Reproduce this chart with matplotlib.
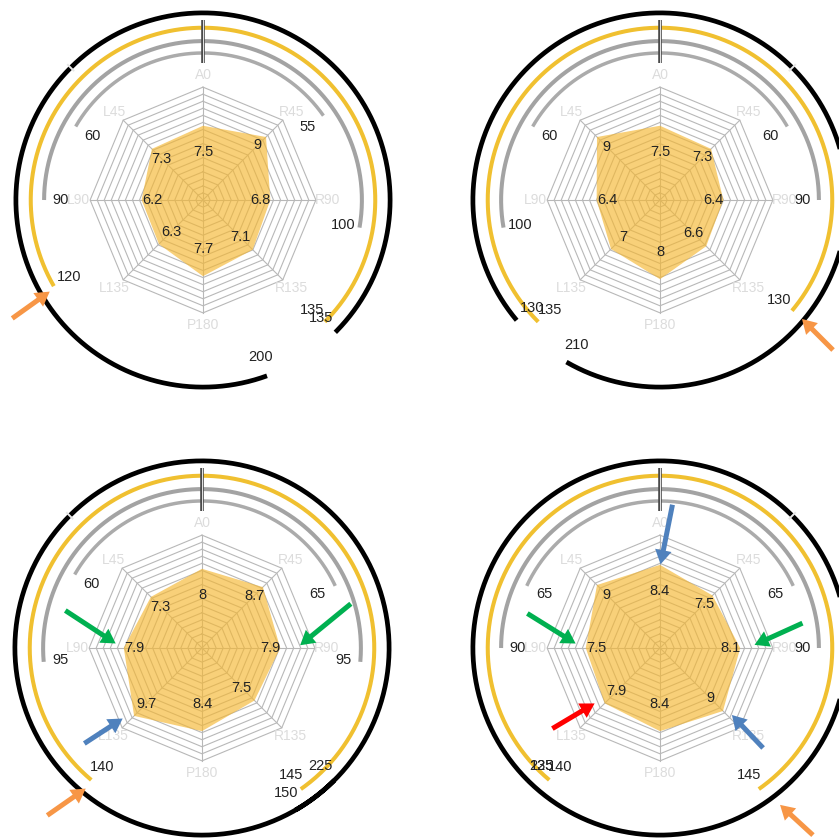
import numpy as np
import matplotlib
matplotlib.use("Agg")
import matplotlib.pyplot as plt
from matplotlib.patches import FancyArrowPatch

plt.rcParams['font.family'] = ['Liberation Sans', 'DejaVu Sans']

# spokes of the radar, clockwise from the top
directions = ['A0', 'R45', 'R90', 'R135', 'P180', 'L135', 'L90', 'L45']
bearings = [0, 45, 90, 135, 180, 225, 270, 315]

# scores per spoke for the four charts (top-left, top-right, bottom-left, bottom-right)
scores_tl = [7.5, 9, 6.8, 7.1, 7.7, 6.3, 6.2, 7.3]
scores_tr = [7.5, 7.3, 6.4, 6.6, 8, 7, 6.4, 9]
scores_bl = [8, 8.7, 7.9, 7.5, 8.4, 9.7, 7.9, 7.3]
scores_br = [8.4, 7.5, 8.1, 9, 8.4, 7.9, 7.5, 9]
all_scores = [scores_tl, scores_tr, scores_bl, scores_br]

# arc reach in degrees from the top: (left / counter-clockwise, right / clockwise)
inner_gray = [(60, 55), (60, 60), (60, 65), (65, 65)]
outer_gray = [(90, 100), (100, 90), (95, 95), (90, 90)]
yellow = [(120, 135), (135, 130), (140, 145), (140, 145)]
black = [(200, 135), (130, 210), (225, 150), (135, 225)]

# ---- layout / style ----
W, H = 839, 838
K = 9.9              # pixels per radial unit
RLIM = 20.5
GRID_MAX = 11.4
N_RINGS = 16
centers = [(203, 200), (660, 200), (202, 648), (660, 648)]
tick_side = [-45, 45, -45, 45]

# ring radius, line width, colour, label radius
rings = [
    (inner_gray, 14.85, 2.5, '#ababab', 12.9),
    (outer_gray, 16.05, 2.9, '#a3a3a3', 14.35),
    (yellow, 17.4, 2.9, '#f0c030', 15.65),
    (black, 18.9, 3.4, '#000000', 16.9),
]
# how far the score text sits inside its vertex (pixels)
pull = [26, 12, 10, 18, 27, 17, 11, 14]

# annotation arrows: colour, tail (px), tip (px)
arrows = [
    ('#f79646', (10, 320), (52, 290)),
    ('#f79646', (835, 352), (800, 317)),
    ('#00b050', (63, 609), (118, 645)),
    ('#00b050', (353, 602), (298, 647)),
    ('#4f81bd', (82, 745), (125, 717)),
    ('#f79646', (45, 817), (88, 787)),
    ('#4f81bd', (673, 502), (660, 567)),
    ('#00b050', (525, 612), (578, 645)),
    ('#00b050', (805, 622), (752, 646)),
    ('#ff0000', (550, 730), (597, 702)),
    ('#4f81bd', (765, 750), (730, 713)),
    ('#f79646', (815, 837), (778, 803)),
]

fig = plt.figure(figsize=(W / 100, H / 100), dpi=100)

theta = np.radians(bearings)
theta_closed = np.append(theta, theta[0])
side = RLIM * K * 2

for i, (cx, cy) in enumerate(centers):
    ax = fig.add_axes([(cx - side / 2) / W, 1 - (cy + side / 2) / H, side / W, side / H],
                      projection='polar')
    ax.set_theta_zero_location('N')
    ax.set_theta_direction(-1)
    ax.set_ylim(0, RLIM)
    ax.set_axis_off()

    # octagonal grid and spokes
    for r in np.linspace(GRID_MAX / N_RINGS, GRID_MAX, N_RINGS):
        ax.plot(theta_closed, [r] * 9, color='#b8b8b8', lw=0.8, zorder=2)
    for t in theta:
        ax.plot([t, t], [0, GRID_MAX], color='#b8b8b8', lw=0.8, zorder=2)

    # filled score polygon
    vals = all_scores[i]
    ax.fill(theta_closed, vals + vals[:1], color='#f5b731', alpha=0.65, lw=0, zorder=3)

    for j, t in enumerate(theta):
        ax.text(t, vals[j] - pull[j] / K, f'{vals[j]:g}', ha='center', va='center',
                fontsize=10.5, color='#222222', zorder=5)
        ax.text(t, 12.6, directions[j], ha='center', va='center', fontsize=10,
                color='#dcdcdc', zorder=4)

    # arcs around the radar
    for spans, rad, lw, col, lab_r in rings:
        left, right = spans[i]
        th = np.radians(np.linspace(-left, right, 500))
        ax.plot(th, np.full_like(th, rad), color=col, lw=lw, solid_capstyle='butt',
                zorder=4, clip_on=False)
        ax.text(np.radians(-left), lab_r, str(left), ha='center', va='center',
                fontsize=10.5, color='#222222', zorder=6)
        ax.text(np.radians(right), lab_r, str(right), ha='center', va='center',
                fontsize=10.5, color='#222222', zorder=6)

    # zero marker at the top and the small tick on the black ring
    ax.plot([0, 0], [13.8, 18.2], color='#4a4a4a', lw=2.6, solid_capstyle='butt', zorder=7)
    ax.plot([0, 0], [13.8, 18.2], color='white', lw=0.6, zorder=8)
    tk = np.radians(tick_side[i])
    ax.plot([tk, tk], [18.5, 19.3], color='#e8e8e8', lw=1.4, zorder=8)

for col, tail, tip in arrows:
    arr = FancyArrowPatch((tail[0] / W, 1 - tail[1] / H), (tip[0] / W, 1 - tip[1] / H),
                          transform=fig.transFigure,
                          arrowstyle='simple,head_length=0.85,head_width=1.0,tail_width=0.3',
                          mutation_scale=12, color=col, lw=0, zorder=10)
    fig.add_artist(arr)

fig.savefig('out.png', dpi=100)
